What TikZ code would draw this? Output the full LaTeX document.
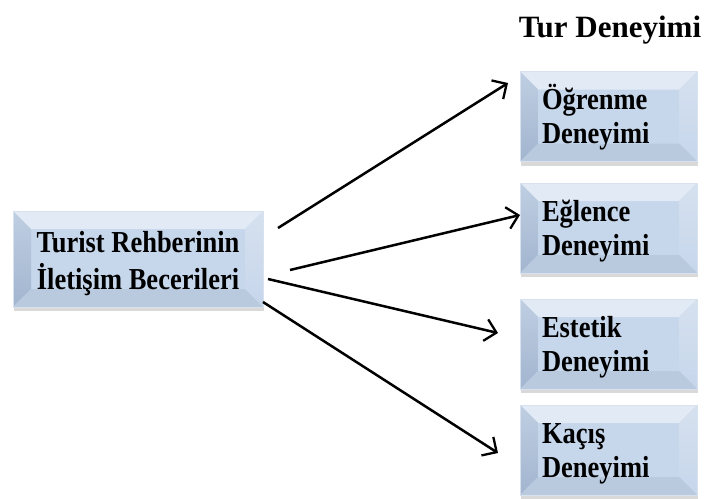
\documentclass[tikz,border=0pt]{standalone}
\usepackage{fontspec}
\setmainfont{Liberation Serif}
\usetikzlibrary{arrows.meta,shadows}
\definecolor{bmid}{HTML}{C6D6EB}
\definecolor{btop}{HTML}{E2EAF5}
\definecolor{bleftA}{HTML}{BFCEE2}
\definecolor{bleftB}{HTML}{A2B5CF}
\definecolor{bright}{HTML}{D6E1EF}
\definecolor{bbot}{HTML}{B9C9DE}
\definecolor{bedge}{HTML}{D8E2EF}
\newcommand\tallline[1]{\scalebox{1}[1.15]{#1}}
\tikzset{
  bevelbox/.style={fill=bmid, draw=bedge, line width=0.4pt, inner sep=0pt,
    drop shadow={opacity=0.3, shadow xshift=1pt, shadow yshift=-4pt},
    path picture={
      \def\bv{18pt}
      \coordinate (@nw) at (path picture bounding box.north west);
      \coordinate (@ne) at (path picture bounding box.north east);
      \coordinate (@sw) at (path picture bounding box.south west);
      \coordinate (@se) at (path picture bounding box.south east);
      \fill[btop] (@nw) -- (@ne) -- ([xshift=-\bv,yshift=-\bv]@ne) -- ([xshift=\bv,yshift=-\bv]@nw) -- cycle;
      \shade[top color=bleftA, bottom color=bleftB] (@nw) -- ([xshift=\bv,yshift=-\bv]@nw) -- ([xshift=\bv,yshift=\bv]@sw) -- (@sw) -- cycle;
      \shade[top color=bright, bottom color=bmid] (@ne) -- (@se) -- ([xshift=-\bv,yshift=\bv]@se) -- ([xshift=-\bv,yshift=-\bv]@ne) -- cycle;
      \fill[bbot] (@sw) -- ([xshift=\bv,yshift=\bv]@sw) -- ([xshift=-\bv,yshift=\bv]@se) -- (@se) -- cycle;
    }},
  srcbox/.style={bevelbox, minimum width=250pt, minimum height=96pt, align=center,
    font=\fontsize{26.5}{37}\selectfont\bfseries},
  expbox/.style={bevelbox, minimum width=177pt, minimum height=90pt, text width=133pt, align=left,
    font=\fontsize{26.5}{34}\selectfont\bfseries},
  titletext/.style={font=\fontsize{31}{35}\selectfont\bfseries, inner sep=0pt},
  arr/.style={line width=2.5pt, -{Straight Barb[length=11pt, width=22pt, line width=2.3pt]}}
}
\begin{document}
\begin{tikzpicture}[x=1pt, y=-1pt]
\useasboundingbox (0,0) rectangle (711,498);
\node[titletext] (title) at (610,30) {Tur Deneyimi};
\node[srcbox] (src) at (138,259) {\rule{0pt}{31pt}\tallline{Turist Rehberinin}\\\tallline{İletişim Becerileri}};
\node[expbox] (e1) at (608.5,116.5) {\rule{0pt}{27pt}\tallline{Öğrenme}\\\tallline{Deneyimi}};
\node[expbox] (e2) at (608.5,228) {\rule{0pt}{27pt}\tallline{Eğlence}\\\tallline{Deneyimi}};
\node[expbox] (e3) at (608.5,344) {\rule{0pt}{27pt}\tallline{Estetik}\\\tallline{Deneyimi}};
\node[expbox] (e4) at (608.5,450) {\rule{0pt}{27pt}\tallline{Kaçış}\\\tallline{Deneyimi}};
\coordinate (s1) at (278,228);
\coordinate (s2) at (290,270);
\coordinate (s3) at (268,279);
\coordinate (s4) at (263,302);
\coordinate (t1) at (508,83);
\coordinate (t2) at (520,215);
\coordinate (t3) at (498,333);
\coordinate (t4) at (498,453);
\draw[arr] (s1) -- (t1);
\draw[arr] (s2) -- (t2);
\draw[arr] (s3) -- (t3);
\draw[arr] (s4) -- (t4);
\end{tikzpicture}
\end{document}
